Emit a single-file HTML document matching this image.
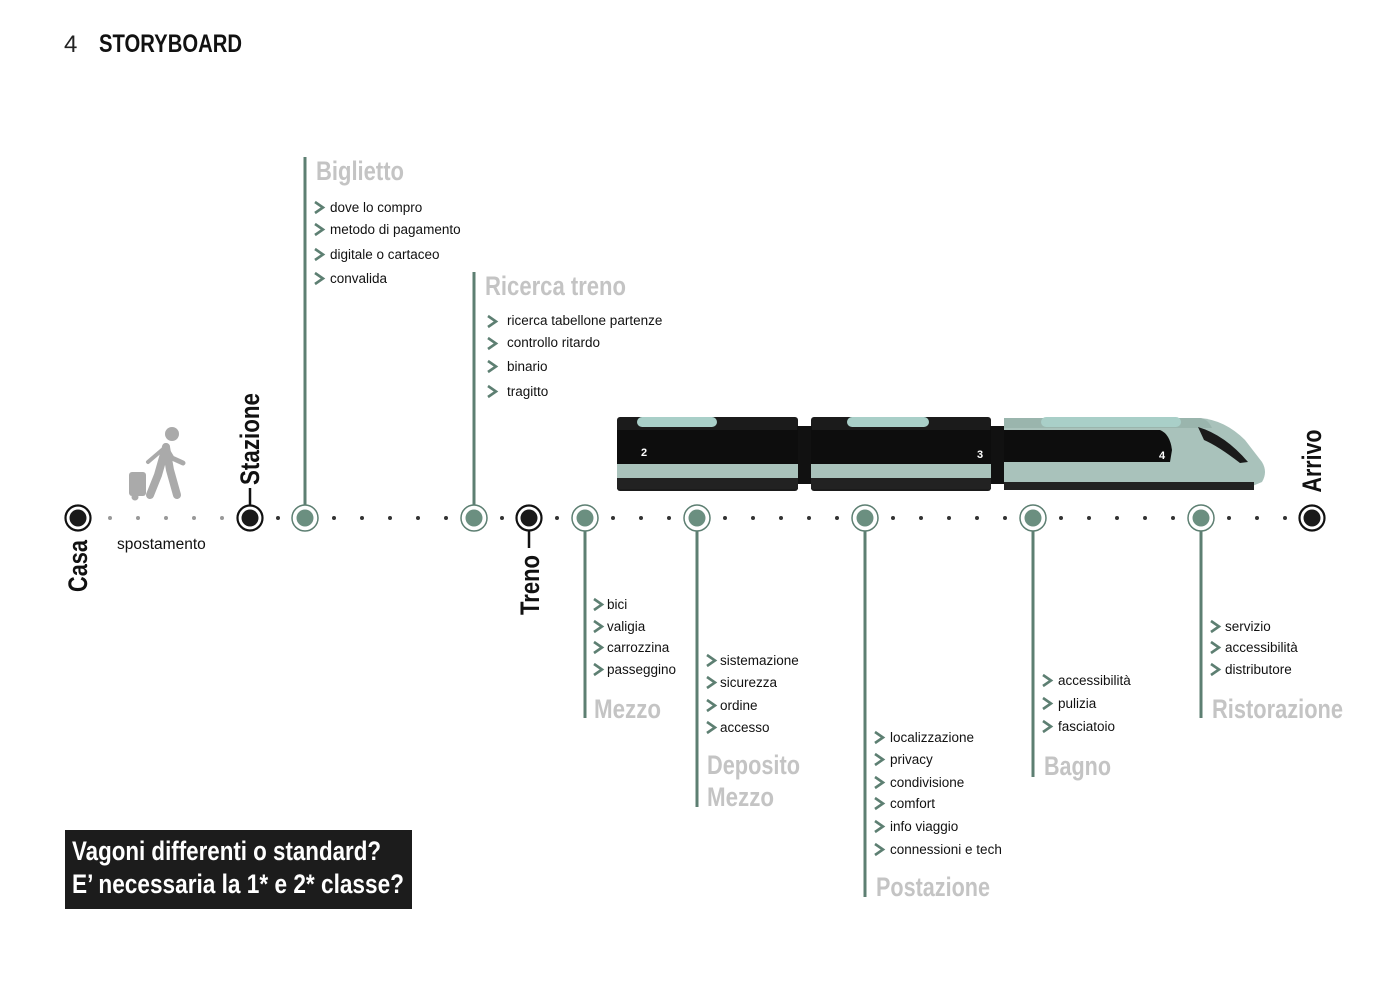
<!DOCTYPE html>
<html><head><meta charset="utf-8"><style>
html,body{margin:0;padding:0;background:#fff;}
svg{display:block;}
text{font-family:"Liberation Sans Narrow","Liberation Sans",sans-serif;}
.h{font-weight:bold;fill:#c4c4c4;font-size:27px;}
.l{font-family:"Liberation Sans",sans-serif;font-size:13.5px;fill:#111;}
.b{font-weight:bold;fill:#111;font-size:27px;}
.ch{fill:none;stroke:#5d7f72;stroke-width:2.6;}
.vl{stroke:#5d7f72;stroke-width:3;}
</style></head><body>
<svg width="1400" height="991" viewBox="0 0 1400 991" xmlns="http://www.w3.org/2000/svg">
<rect width="1400" height="991" fill="#fff"/>
<text x="64" y="52" font-family="Liberation Sans" font-size="24" fill="#222" style="font-family:'Liberation Sans',sans-serif">4</text>
<text x="99" y="52" font-size="25" font-weight="bold" fill="#111" textLength="143" lengthAdjust="spacingAndGlyphs">STORYBOARD</text>

<!-- vertical lines -->
<line class="vl" x1="305" y1="157" x2="305" y2="506"/>
<line class="vl" x1="474" y1="272" x2="474" y2="506"/>
<line class="vl" x1="585" y1="530" x2="585" y2="718"/>
<line class="vl" x1="697" y1="530" x2="697" y2="807"/>
<line class="vl" x1="865" y1="530" x2="865" y2="897"/>
<line class="vl" x1="1033" y1="530" x2="1033" y2="777"/>
<line class="vl" x1="1201" y1="530" x2="1201" y2="718"/>

<!-- dots -->
<g fill="#999">
<circle cx="110" cy="518" r="2"/><circle cx="138" cy="518" r="2"/><circle cx="166" cy="518" r="2"/><circle cx="194" cy="518" r="2"/><circle cx="222" cy="518" r="2"/>
</g>
<g fill="#333">
<circle cx="278" cy="518" r="2"/>
<circle cx="334" cy="518" r="2"/><circle cx="362" cy="518" r="2"/><circle cx="390" cy="518" r="2"/><circle cx="418" cy="518" r="2"/><circle cx="446" cy="518" r="2"/>
<circle cx="502" cy="518" r="2"/><circle cx="557" cy="518" r="2"/>
<circle cx="613" cy="518" r="2"/><circle cx="641" cy="518" r="2"/><circle cx="669" cy="518" r="2"/>
<circle cx="725" cy="518" r="2"/><circle cx="753" cy="518" r="2"/><circle cx="781" cy="518" r="2"/><circle cx="809" cy="518" r="2"/><circle cx="837" cy="518" r="2"/>
<circle cx="893" cy="518" r="2"/><circle cx="921" cy="518" r="2"/><circle cx="949" cy="518" r="2"/><circle cx="977" cy="518" r="2"/><circle cx="1005" cy="518" r="2"/>
<circle cx="1061" cy="518" r="2"/><circle cx="1089" cy="518" r="2"/><circle cx="1117" cy="518" r="2"/><circle cx="1145" cy="518" r="2"/><circle cx="1173" cy="518" r="2"/>
<circle cx="1229" cy="518" r="2"/><circle cx="1257" cy="518" r="2"/><circle cx="1285" cy="518" r="2"/>
</g>

<!-- black nodes -->
<g>
<circle cx="78" cy="518" r="12.5" fill="#fff" stroke="#111" stroke-width="2.2"/><circle cx="78" cy="518" r="8.5" fill="#1a1a1a"/>
<circle cx="250" cy="518" r="12.5" fill="#fff" stroke="#111" stroke-width="2.2"/><circle cx="250" cy="518" r="8.5" fill="#1a1a1a"/>
<circle cx="529" cy="518" r="12.5" fill="#fff" stroke="#111" stroke-width="2.2"/><circle cx="529" cy="518" r="8.5" fill="#1a1a1a"/>
<circle cx="1312" cy="518" r="12.5" fill="#fff" stroke="#111" stroke-width="2.2"/><circle cx="1312" cy="518" r="8.5" fill="#1a1a1a"/>
</g>
<line x1="250" y1="488" x2="250" y2="505" stroke="#111" stroke-width="2.5"/>
<line x1="529" y1="531" x2="529" y2="548" stroke="#111" stroke-width="2.5"/>
<!-- green nodes -->
<g fill="#fff" stroke="#5d7f72" stroke-width="1.5">
<circle cx="305" cy="518" r="13"/><circle cx="474" cy="518" r="13"/><circle cx="585" cy="518" r="13"/><circle cx="697" cy="518" r="13"/><circle cx="865" cy="518" r="13"/><circle cx="1033" cy="518" r="13"/><circle cx="1201" cy="518" r="13"/>
</g>
<g fill="#6b8f80">
<circle cx="305" cy="518" r="8.5"/><circle cx="474" cy="518" r="8.5"/><circle cx="585" cy="518" r="8.5"/><circle cx="697" cy="518" r="8.5"/><circle cx="865" cy="518" r="8.5"/><circle cx="1033" cy="518" r="8.5"/><circle cx="1201" cy="518" r="8.5"/>
</g>

<!-- rotated labels -->
<text class="b" transform="translate(87,566) rotate(-90)" text-anchor="middle" textLength="52" lengthAdjust="spacingAndGlyphs">Casa</text>
<text class="b" transform="translate(259,439) rotate(-90)" text-anchor="middle" textLength="92" lengthAdjust="spacingAndGlyphs">Stazione</text>
<text class="b" transform="translate(539,585) rotate(-90)" text-anchor="middle" textLength="60" lengthAdjust="spacingAndGlyphs">Treno</text>
<text class="b" transform="translate(1321,461) rotate(-90)" text-anchor="middle" textLength="63" lengthAdjust="spacingAndGlyphs">Arrivo</text>

<text x="117" y="549" font-size="15.5" style="font-family:'Liberation Sans',sans-serif" fill="#111">spostamento</text>

<!-- person -->
<g fill="#aaa" stroke="#aaa" stroke-linecap="round" stroke-linejoin="round">
<circle cx="172" cy="434" r="7" stroke="none"/>
<path d="M166 447 L158 475 L150 495" stroke-width="8" fill="none"/>
<path d="M166 447 L170 470 L177 495" stroke-width="8" fill="none"/>
<path d="M166 448 L172 458 L183 463" stroke-width="5" fill="none"/>
<path d="M162 450 L148 462" stroke-width="4" fill="none"/>
<rect x="129" y="472" width="17" height="24" rx="3" stroke="none"/>
<circle cx="135" cy="497" r="3"/>
</g>

<!-- train -->
<g>
<rect x="617" y="417" width="181" height="74" rx="3" fill="#1b1b1b"/>
<rect x="811" y="417" width="180" height="74" rx="3" fill="#1b1b1b"/>
<rect x="797" y="426" width="15" height="58" fill="#111"/>
<rect x="990" y="426" width="15" height="58" fill="#111"/>
<path d="M1004 418 L1200 418 Q1225 420 1245 440 L1262 462 Q1268 472 1262 482 L1250 487 L1004 490 Z" fill="#a9c2bb"/>
<path d="M1004 418 L1200 418 Q1208 419 1212 428 L1004 428 Z" fill="#9ab5ad"/>
<path d="M1004 430 L1160 430 Q1170 434 1172 450 L1170 462 L1004 462 Z" fill="#0d0d0d"/>
<path d="M1004 462 L1250 462 L1004 480 Z" fill="none"/>
<path d="M1198 427 Q1225 435 1248 462 L1240 463 Q1218 446 1204 440 Z" fill="#1a1a1a"/>
<rect x="1004" y="482" width="250" height="8" fill="#222"/>
<rect x="617" y="430" width="181" height="34" fill="#0d0d0d"/>
<rect x="811" y="430" width="180" height="34" fill="#0d0d0d"/>
<rect x="617" y="464" width="181" height="14" fill="#a9c2bb"/>
<rect x="811" y="464" width="180" height="14" fill="#a9c2bb"/>
<rect x="1004" y="464" width="240" height="14" fill="#a9c2bb"/>
<rect x="617" y="478" width="181" height="11" fill="#222"/>
<rect x="811" y="478" width="180" height="11" fill="#222"/>
<rect x="637" y="417" width="80" height="10" rx="5" fill="#a9cfc8"/>
<rect x="847" y="417" width="82" height="10" rx="5" fill="#a9cfc8"/>
<rect x="1041" y="417" width="140" height="10" rx="5" fill="#a9cfc8"/>
<g font-size="11" font-weight="bold" fill="#fff" style="font-family:'Liberation Sans',sans-serif">
<text x="641" y="456">2</text><text x="977" y="458">3</text><text x="1159" y="459">4</text>
</g>
</g>

<!-- headings -->
<text class="h" x="316" y="180" textLength="88" lengthAdjust="spacingAndGlyphs">Biglietto</text>
<text class="h" x="485" y="295" textLength="141" lengthAdjust="spacingAndGlyphs">Ricerca treno</text>
<text class="h" x="594" y="718" textLength="67" lengthAdjust="spacingAndGlyphs">Mezzo</text>
<text class="h" x="707" y="774" textLength="93" lengthAdjust="spacingAndGlyphs">Deposito</text>
<text class="h" x="707" y="806" textLength="67" lengthAdjust="spacingAndGlyphs">Mezzo</text>
<text class="h" x="876" y="896" textLength="114" lengthAdjust="spacingAndGlyphs">Postazione</text>
<text class="h" x="1044" y="775" textLength="67" lengthAdjust="spacingAndGlyphs">Bagno</text>
<text class="h" x="1212" y="718" textLength="131" lengthAdjust="spacingAndGlyphs">Ristorazione</text>

<!-- lists -->
<g class="ch">
<polyline points="315,202 323,207.5 315,213"/><polyline points="315,224 323,229.5 315,235"/><polyline points="315,249 323,254.5 315,260"/><polyline points="315,273 323,278.5 315,284"/>
<polyline points="488,316 496,321.5 488,327"/><polyline points="488,338 496,343.5 488,349"/><polyline points="488,361 496,366.5 488,372"/><polyline points="488,386 496,391.5 488,397"/>
<polyline points="594,599 602,604.5 594,610"/><polyline points="594,621 602,626.5 594,632"/><polyline points="594,642 602,647.5 594,653"/><polyline points="594,664 602,669.5 594,675"/>
<polyline points="707,655 715,660.5 707,666"/><polyline points="707,677 715,682.5 707,688"/><polyline points="707,700 715,705.5 707,711"/><polyline points="707,722 715,727.5 707,733"/>
<polyline points="875,732 883,737.5 875,743"/><polyline points="875,754 883,759.5 875,765"/><polyline points="875,777 883,782.5 875,788"/><polyline points="875,798 883,803.5 875,809"/><polyline points="875,821 883,826.5 875,832"/><polyline points="875,844 883,849.5 875,855"/>
<polyline points="1043,675 1051,680.5 1043,686"/><polyline points="1043,698 1051,703.5 1043,709"/><polyline points="1043,721 1051,726.5 1043,732"/>
<polyline points="1211,621 1219,626.5 1211,632"/><polyline points="1211,642 1219,647.5 1211,653"/><polyline points="1211,664 1219,669.5 1211,675"/>
</g>
<g class="l">
<text x="330" y="212">dove lo compro</text><text x="330" y="234">metodo di pagamento</text><text x="330" y="259">digitale o cartaceo</text><text x="330" y="283">convalida</text>
<text x="507" y="325">ricerca tabellone partenze</text><text x="507" y="347">controllo ritardo</text><text x="507" y="371">binario</text><text x="507" y="396">tragitto</text>
<text x="607" y="609">bici</text><text x="607" y="631">valigia</text><text x="607" y="652">carrozzina</text><text x="607" y="674">passeggino</text>
<text x="720" y="665">sistemazione</text><text x="720" y="687">sicurezza</text><text x="720" y="710">ordine</text><text x="720" y="732">accesso</text>
<text x="890" y="742">localizzazione</text><text x="890" y="764">privacy</text><text x="890" y="787">condivisione</text><text x="890" y="808">comfort</text><text x="890" y="831">info viaggio</text><text x="890" y="854">connessioni e tech</text>
<text x="1058" y="685">accessibilità</text><text x="1058" y="708">pulizia</text><text x="1058" y="731">fasciatoio</text>
<text x="1225" y="631">servizio</text><text x="1225" y="652">accessibilità</text><text x="1225" y="674">distributore</text>
</g>

<!-- box -->
<rect x="65" y="830" width="347" height="79" fill="#1c1c1c"/>
<text x="72" y="860" font-size="27" font-weight="bold" fill="#fff" textLength="309" lengthAdjust="spacingAndGlyphs">Vagoni differenti o standard?</text>
<text x="72" y="893" font-size="27" font-weight="bold" fill="#fff" textLength="332" lengthAdjust="spacingAndGlyphs">E’ necessaria la 1* e 2* classe?</text>
</svg>
</body></html>
